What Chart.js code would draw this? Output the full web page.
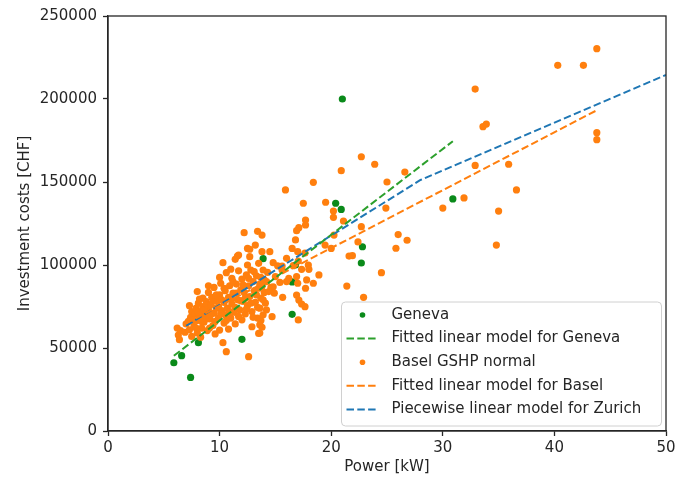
<!DOCTYPE html>
<html>
<head>
<meta charset="utf-8">
<script src="https://cdn.jsdelivr.net/npm/chart.js@4.4.1/dist/chart.umd.min.js"></script>
<style>
  body { margin: 0; background: #fff; }
  #wrap { width: 683px; height: 480px; }
</style>
</head>
<body>
<div id="wrap"><canvas id="costChart" width="683" height="480"></canvas></div>
<script>
// Geneva installations: [power kW, cost CHF]
const genevaPoints = [
    [5.9, 41100], [6.6, 45400], [7.4, 32300], [8.1, 53200], [12.0, 55200],
    [13.9, 103800], [16.5, 89800], [16.5, 70300], [16.8, 100000],
    [20.4, 137200], [20.9, 133500], [21.0, 200000], [22.8, 111000],
    [22.7, 101200], [30.9, 139800]
];

// Basel GSHP installations: [power kW, cost CHF]
const baselPoints = [
    // larger units
    [32.9, 206000], [33.6, 183300], [33.9, 184900], [22.7, 165200], [23.9, 160700],
    [20.9, 156800], [26.6, 156000], [25.0, 150000], [32.9, 160000], [24.9, 134300],
    [30.0, 134300], [31.9, 140400], [35.0, 132500], [34.8, 112000], [21.1, 126500],
    [22.7, 123100], [22.4, 113900], [21.9, 105600], [26.0, 118300], [26.8, 114900],
    [25.8, 110100], [24.5, 95400], [21.4, 87300], [22.9, 80500], [43.8, 230300],
    [40.3, 220300], [42.6, 220300], [43.8, 179700], [43.8, 175500], [35.9, 160700],
    [36.6, 145200], [21.6, 105400],
    // 12 - 21 kW, upper part
    [15.9, 145200], [18.4, 149800], [19.5, 137800], [17.5, 137200], [20.2, 132500],
    [20.2, 128700], [17.7, 127100], [17.7, 124100], [17.1, 122500], [16.9, 120700],
    [16.8, 115100], [13.4, 120300], [13.8, 118000], [12.2, 119500], [12.5, 110000],
    [12.7, 109500], [13.2, 112000], [13.8, 108000], [11.7, 106000], [11.4, 103400],
    [12.7, 105000], [14.5, 108000], [20.25, 118000], [19.45, 112000], [20.0, 110000],
    // 6 - 7.5 kW
    [6.2, 62000], [6.3, 57800], [6.4, 55000], [6.5, 60500], [6.9, 59500], [7.0, 64500],
    [7.2, 66000], [7.3, 61000], [7.4, 68500], [7.5, 57000], [7.5, 72000], [7.3, 75500],
    // 7.5 - 9 kW
    [7.7, 63000], [7.8, 70500], [7.9, 74000], [8.0, 66500], [8.0, 59000], [8.1, 77000],
    [8.2, 68500], [8.3, 72000], [8.4, 62000], [8.5, 80000], [8.5, 75000], [8.6, 65500],
    [8.7, 70000], [8.8, 78000], [8.9, 60500], [9.0, 73500], [9.0, 83500], [8.3, 56500],
    [7.6, 67000], [7.9, 62000], [8.1, 71500], [8.2, 79500], [8.4, 66000], [8.6, 73000],
    [8.8, 68000], [8.9, 76000], [8.0, 84000],
    // 9 - 10.5 kW
    [9.1, 67500], [9.2, 76000], [9.3, 80500], [9.4, 63500], [9.5, 71000], [9.5, 86500],
    [9.6, 58500], [9.7, 74000], [9.8, 78500], [9.9, 68000], [10.0, 82000], [10.0, 60800],
    [10.1, 89000], [10.2, 72500], [10.3, 101400], [10.3, 53200], [10.4, 65000],
    [10.4, 77500], [10.5, 84500], [10.6, 95400], [10.6, 47800], [10.5, 70000],
    [9.1, 62000], [9.2, 70000], [9.4, 78000], [9.6, 66000], [9.7, 82000], [9.9, 75000],
    [10.1, 70500], [10.2, 79000], [10.4, 86000], [9.0, 87500], [10.0, 92500],
    // 10.5 - 12 kW
    [10.7, 74000], [10.8, 61400], [10.8, 80500], [10.9, 87500], [11.0, 68000],
    [11.1, 92000], [11.1, 76500], [11.2, 83000], [11.3, 71500], [11.4, 64500],
    [11.5, 88500], [11.6, 105400], [11.6, 79000], [11.7, 96500], [11.8, 73000],
    [11.9, 85000], [12.0, 67000], [12.0, 91500], [10.6, 66500], [10.9, 72000],
    [11.0, 79500], [11.2, 90000], [11.4, 74500], [11.5, 83000], [11.7, 69000],
    [11.9, 78500], [11.0, 97500],
    // 12 - 13.5 kW
    [12.1, 78000], [12.2, 83500], [12.3, 70500], [12.4, 94000], [12.5, 100000],
    [12.5, 75500], [12.6, 44800], [12.6, 87500], [12.7, 81000], [12.8, 97000],
    [12.9, 62800], [12.9, 72000], [13.0, 90000], [13.1, 84500], [13.2, 77500],
    [13.3, 93500], [13.4, 68000], [13.5, 58800], [13.5, 86000], [13.5, 101000],
    [12.1, 88000], [12.3, 80000], [12.4, 73500], [12.6, 92000], [12.8, 77000],
    [13.0, 68500], [13.1, 96000], [13.3, 82000], [13.4, 74500],
    // 13.5 - 15 kW
    [13.6, 64000], [13.6, 74000], [13.7, 80000], [13.7, 92500], [13.8, 87000],
    [13.9, 70000], [13.9, 97000], [14.0, 83500], [14.1, 77000], [14.2, 90000],
    [14.3, 95500], [14.6, 86500], [14.7, 68900], [14.8, 101400], [14.8, 86900],
    [14.9, 83000], [15.0, 93000], [13.6, 59000], [13.8, 62500], [13.7, 66500],
    [13.6, 88500], [13.9, 79000], [14.0, 91000], [14.2, 73000], [14.4, 84000],
    // 15 - 19 kW
    [15.2, 99500], [15.4, 89500], [15.6, 97000], [15.6, 99400], [15.65, 80500],
    [16.0, 104000], [16.2, 92000], [16.5, 110000], [16.6, 99600], [16.9, 81900],
    [17.05, 102400], [17.05, 66900], [17.1, 78900], [17.35, 97400], [17.35, 76500],
    [17.65, 74900], [17.7, 86000], [17.8, 91000], [17.95, 100000], [18.0, 97400],
    [18.9, 94000], [17.0, 89000], [16.9, 93000], [17.0, 108000], [17.65, 107200],
    [18.4, 89000], [16.0, 90000]
];

// fitted / piecewise model lines: [power kW, cost CHF]
const genevaFit = [[5.9, 45300], [30.9, 174550]];
const baselFit = [[7.0, 64880], [43.8, 193200]];
const zurichModel = [[7.0, 63400], [28.0, 151200], [50.0, 214500]];

const seriesLabels = [
    'Geneva',
    'Fitted linear model for Geneva',
    'Basel GSHP normal',
    'Fitted linear model for Basel',
    'Piecewise linear model for Zurich'
];

const xTicks = [0, 10, 20, 30, 40, 50];
const yTicks = [0, 50000, 100000, 150000, 200000, 250000];

const GREEN = '#0a8a1a';
const GREEN_LINE = '#2ca02c';
const ORANGE = '#ff7f0e';
const BLUE = '#1f77b4';
const AXIS = '#262626';
const FONT = 'DejaVu Sans';

const toXY = arr => arr.map(p => ({x: p[0], y: p[1]}));

function pointSet(label, pts, color, order) {
    return {
        label: label,
        data: toXY(pts),
        showLine: false,
        backgroundColor: color,
        borderColor: color,
        pointRadius: 3.6,
        pointBorderWidth: 0,
        pointHoverRadius: 3.6,
        order: order,
        kind: 'dot'
    };
}

function lineSet(label, pts, color) {
    return {
        label: label,
        data: toXY(pts),
        showLine: true,
        borderColor: color,
        backgroundColor: color,
        borderWidth: 2,
        borderDash: [7.5, 3.3],
        pointRadius: 0,
        pointHoverRadius: 0,
        tension: 0,
        order: 0,
        kind: 'line'
    };
}

// white background + full frame around the plot area
const framePlugin = {
    id: 'frame',
    beforeDraw(chart) {
        const c = chart.ctx;
        c.save();
        c.fillStyle = '#fff';
        c.fillRect(0, 0, chart.width, chart.height);
        c.restore();
    },
    afterDraw(chart) {
        const a = chart.chartArea;
        const c = chart.ctx;
        c.save();
        c.strokeStyle = AXIS;
        c.lineWidth = 1.3;
        c.strokeRect(a.left, a.top, a.right - a.left, a.bottom - a.top);
        c.restore();
    }
};

// matplotlib-like legend box in the lower right of the axes
const boxLegend = {
    id: 'boxLegend',
    afterDraw(chart) {
        const a = chart.chartArea;
        const c = chart.ctx;
        const w = 320, h = 124;
        const x0 = a.right - 4.5 - w, y0 = a.bottom - 5 - h;
        c.save();
        c.beginPath();
        c.roundRect(x0, y0, w, h, 4);
        c.fillStyle = 'rgba(255,255,255,0.85)';
        c.fill();
        c.strokeStyle = '#d0d0d0';
        c.lineWidth = 1;
        c.stroke();
        c.font = '15px "' + FONT + '"';
        c.textBaseline = 'middle';
        c.fillStyle = AXIS;
        chart.data.datasets.forEach((ds, i) => {
            const y = y0 + 13 + i * 23.6;
            if (ds.kind === 'dot') {
                c.beginPath();
                c.arc(x0 + 21, y, 2.8, 0, Math.PI * 2);
                c.fillStyle = ds.backgroundColor;
                c.fill();
            } else {
                c.beginPath();
                c.setLineDash(ds.borderDash);
                c.strokeStyle = ds.borderColor;
                c.lineWidth = 2;
                c.moveTo(x0 + 5, y);
                c.lineTo(x0 + 37, y);
                c.stroke();
                c.setLineDash([]);
            }
            c.fillStyle = AXIS;
            c.fillText(ds.label, x0 + 50, y);
        });
        c.restore();
    }
};

new Chart(document.getElementById('costChart'), {
    type: 'scatter',
    data: {
        datasets: [
            pointSet(seriesLabels[0], genevaPoints, GREEN, 2),
            lineSet(seriesLabels[1], genevaFit, GREEN_LINE),
            pointSet(seriesLabels[2], baselPoints, ORANGE, 1),
            lineSet(seriesLabels[3], baselFit, ORANGE),
            lineSet(seriesLabels[4], zurichModel, BLUE)
        ]
    },
    options: {
        responsive: false,
        animation: false,
        layout: { padding: { top: 16, right: 17, left: 0, bottom: 0 } },
        plugins: {
            legend: { display: false },
            tooltip: { enabled: false }
        },
        scales: {
            x: {
                type: 'linear',
                min: xTicks[0],
                max: xTicks[xTicks.length - 1],
                afterBuildTicks: s => { s.ticks = xTicks.map(v => ({value: v})); },
                afterFit: s => { s.height = 49; },
                grid: { drawOnChartArea: false, tickLength: 5, color: AXIS, tickWidth: 1.3 },
                border: { color: AXIS, width: 1.3 },
                ticks: { color: AXIS, font: { family: FONT, size: 15 }, padding: 3, maxRotation: 0 },
                title: { display: true, text: 'Power [kW]', color: AXIS, font: { family: FONT, size: 15 }, padding: { top: 0, bottom: 4 } }
            },
            y: {
                type: 'linear',
                min: yTicks[0],
                max: yTicks[yTicks.length - 1],
                afterBuildTicks: s => { s.ticks = yTicks.map(v => ({value: v})); },
                afterFit: s => { s.width = 108; },
                grid: { drawOnChartArea: false, tickLength: 5, color: AXIS, tickWidth: 1.3 },
                border: { color: AXIS, width: 1.3 },
                ticks: { color: AXIS, font: { family: FONT, size: 15 }, padding: 6, callback: v => String(v) },
                title: { display: true, text: 'Investment costs [CHF]', color: AXIS, font: { family: FONT, size: 15 }, padding: { top: 16, bottom: 0 } }
            }
        }
    },
    plugins: [framePlugin, boxLegend]
});
</script>
</body>
</html>
